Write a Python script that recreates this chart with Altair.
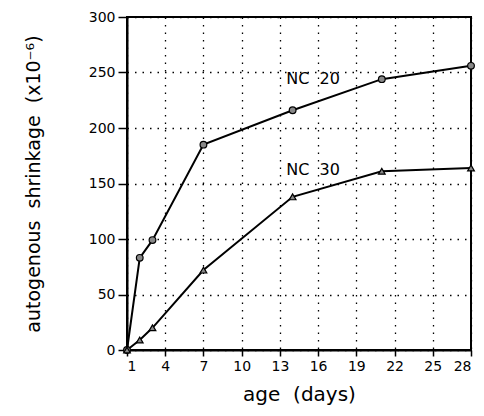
import altair as alt
import pandas as pd

days = [1, 2, 3, 7, 14, 21, 28]
nc20 = [0, 83, 99, 185, 216, 244, 256]
nc30 = [0, 9, 20, 72, 138, 161, 164]
series_names = ["NC\u00a0\u00a020", "NC\u00a0\u00a030"]
x_ticks = [1, 4, 7, 10, 13, 16, 19, 22, 25, 28]
y_ticks = [0, 50, 100, 150, 200, 250, 300]
label_x = [13.5, 13.5]
label_y = [244, 162]

rows = []
for d, a, b in zip(days, nc20, nc30):
    rows.append({"age": d, "val": a, "series": series_names[0]})
    rows.append({"age": d, "val": b, "series": series_names[1]})
df = pd.DataFrame(rows)
lab = pd.DataFrame({"age": label_x, "val": label_y, "text": series_names})

FONT = "DejaVu Sans"
SP = "\u00a0\u00a0"

common = dict(labelFontSize=14, titleFontWeight="normal",
              grid=True, gridDash=[1.5, 6], gridColor="black", gridWidth=1.3,
              domainColor="black", domainWidth=2, tickColor="black",
              tickWidth=1.5, labelColor="black", titleColor="black",
              labelFont=FONT, titleFont=FONT)

x = alt.X("age:Q", scale=alt.Scale(domain=[1, 28], nice=False, zero=False),
          axis=alt.Axis(values=x_ticks, title="age" + SP + "(days)", tickSize=6,
                        labelPadding=3, titlePadding=11, titleFontSize=20,
                        **common))
y = alt.Y("val:Q", scale=alt.Scale(domain=[0, 300], nice=False),
          axis=alt.Axis(values=y_ticks,
                        title="autogenous" + SP + "shrinkage" + SP + "(x10⁻⁶)",
                        tickSize=9, labelPadding=3, titlePadding=45,
                        titleFontSize=19, **common))

lines = alt.Chart(df).mark_line(color="black", strokeWidth=2).encode(
    x=x, y=y, detail="series:N")
pts = alt.Chart(df).mark_point(filled=True, fill="#888888", stroke="black",
                               strokeWidth=1.2, size=45, opacity=1).encode(
    x=x, y=y,
    shape=alt.Shape("series:N", scale=alt.Scale(domain=series_names,
                                                range=["circle", "triangle-up"]),
                    legend=None))
txt = alt.Chart(lab).mark_text(align="left", baseline="middle", fontSize=16,
                               font=FONT, color="black").encode(
    x=x, y=y, text="text:N")

chart = alt.layer(lines, pts, txt).properties(
    width=344, height=333,
    autosize=alt.AutoSizeParams(type="none"),
    padding={"left": 119, "top": 9, "right": 5, "bottom": 58},
).configure_view(stroke="black", strokeWidth=2)

chart.save("out.html", embed_options={"renderer": "svg", "actions": False})
